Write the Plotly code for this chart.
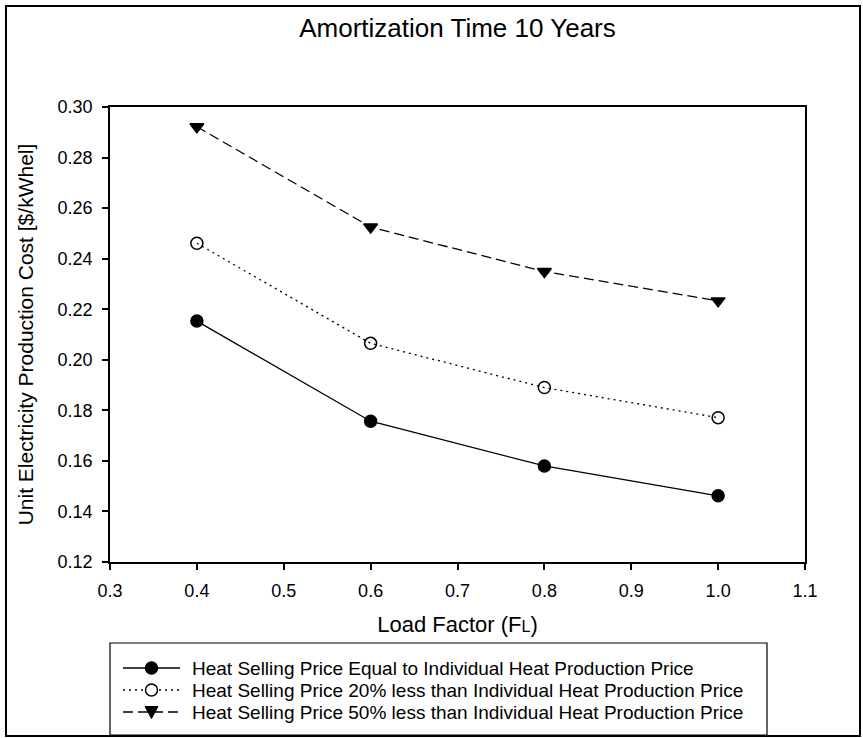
import plotly.graph_objects as go

load_factor = [0.4, 0.6, 0.8, 1.0]
equal_price = [0.2153, 0.1757, 0.1580, 0.1462]
less_20 = [0.2461, 0.2065, 0.1890, 0.1771]
less_50 = [0.2922, 0.2525, 0.2349, 0.2233]

names = [
    "Heat Selling Price Equal to Individual Heat Production Price",
    "Heat Selling Price 20% less than Individual Heat Production Price",
    "Heat Selling Price 50% less than Individual Heat Production Price",
]

FONT = "Arial, Liberation Sans, sans-serif"

styles = [
    dict(dash="solid", symbol="circle", fill=True),
    dict(dash="2px,4px", symbol="circle-open", fill=False),
    dict(dash="10px,5px", symbol="triangle-down", fill=True),
]
series = [equal_price, less_20, less_50]

fig = go.Figure()
for nm, ys, st in zip(names, series, styles):
    fig.add_trace(go.Scatter(
        x=load_factor, y=ys, name=nm, mode="lines+markers", showlegend=False,
        line=dict(color="black", width=1.3, dash=st["dash"]),
        marker=dict(symbol=st["symbol"], size=12, color="black",
                    line=dict(width=1.5, color="black")),
    ))

# plot area: x 110..805, y 107..562
W, H = 863, 738
L, R, T, B = 110, 805, 107, 562
pw, ph = R - L, B - T

def px(x):
    return (x - L) / pw

def py(y):
    return (B - y) / ph

shapes = []
# outer frame
shapes.append(dict(type="rect", xref="paper", yref="paper",
                   x0=px(6), x1=px(860), y0=py(736), y1=py(6),
                   line=dict(color="black", width=2), layer="below"))
# legend box
shapes.append(dict(type="rect", xref="paper", yref="paper",
                   x0=px(110), x1=px(767), y0=py(735), y1=py(643),
                   line=dict(color="black", width=1.2), fillcolor="white"))
annotations = []
rows = [668, 690, 712]
r = 6
for ry, nm, st in zip(rows, names, styles):
    shapes.append(dict(type="line", xref="paper", yref="paper",
                       x0=px(123), x1=px(180), y0=py(ry), y1=py(ry),
                       line=dict(color="black", width=1.3, dash=st["dash"])))
    cx = 151.5
    if st["symbol"].startswith("circle"):
        shapes.append(dict(type="circle", xref="paper", yref="paper",
                           x0=px(cx - r), x1=px(cx + r), y0=py(ry + r), y1=py(ry - r),
                           line=dict(color="black", width=1.5),
                           fillcolor="black" if st["fill"] else "white"))
    else:
        path = "M {} {} L {} {} L {} {} Z".format(
            px(cx - 6.5), py(ry - 5.5), px(cx + 6.5), py(ry - 5.5), px(cx), py(ry + 6.5))
        shapes.append(dict(type="path", xref="paper", yref="paper", path=path,
                           line=dict(color="black", width=1), fillcolor="black"))
    annotations.append(dict(text=nm, xref="paper", yref="paper", x=px(190), y=py(ry),
                            xanchor="left", yanchor="middle", showarrow=False,
                            font=dict(size=19, family=FONT, color="black")))

fig.update_layout(
    width=W, height=H,
    margin=dict(l=L, r=W - R, t=T, b=H - B, autoexpand=False),
    paper_bgcolor="white", plot_bgcolor="white",
    font=dict(family=FONT, color="black", size=18),
    title=dict(text="Amortization Time 10 Years", x=0.5, xref="paper",
               y=1 - 28 / H, yanchor="middle",
               font=dict(size=26, family=FONT, color="black")),
    xaxis=dict(
        range=[0.3, 1.1], dtick=0.1, tick0=0.3, tickformat=".1f",
        showline=True, linecolor="black", linewidth=1.5, mirror=True,
        ticks="outside", ticklen=6, tickwidth=1.5, tickcolor="black",
        showgrid=False, zeroline=False,
        tickfont=dict(size=18), ticklabelstandoff=6,
        title=dict(text="Load Factor (F<span style='font-size:16px'>L</span>)",
                   font=dict(size=22), standoff=16),
    ),
    yaxis=dict(
        range=[0.12, 0.30], dtick=0.02, tick0=0.12, tickformat=".2f",
        showline=True, linecolor="black", linewidth=1.5, mirror=True,
        ticks="outside", ticklen=6, tickwidth=1.5, tickcolor="black",
        showgrid=False, zeroline=False,
        tickfont=dict(size=18), ticklabelstandoff=6,
        title=dict(text="Unit Electricity Production Cost [$/kWhel]",
                   font=dict(size=21), standoff=18),
    ),
    shapes=shapes,
    annotations=annotations,
    showlegend=False,
)

fig.write_html("out.html")
